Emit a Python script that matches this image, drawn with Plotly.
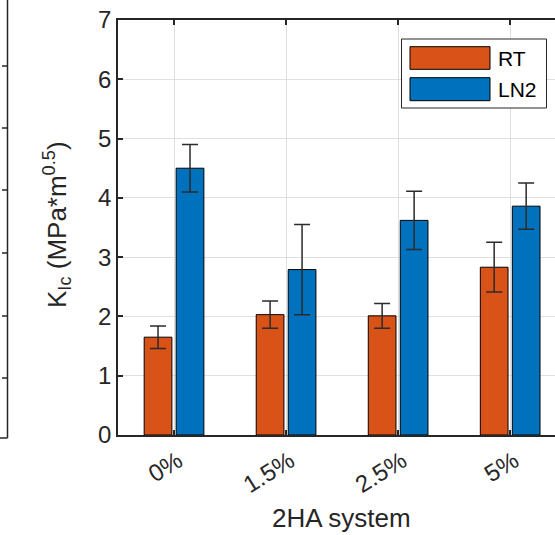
import plotly.graph_objects as go

categories = ["0%", "1.5%", "2.5%", "5%"]
rt_values = [1.65, 2.03, 2.01, 2.83]
rt_errors = [0.19, 0.23, 0.21, 0.42]
ln2_values = [4.50, 2.79, 3.62, 3.86]
ln2_errors = [0.40, 0.76, 0.49, 0.39]
series_names = ["RT", "LN2"]
y_ticks = [0, 1, 2, 3, 4, 5, 6, 7]

RT_COLOR = "#D95319"
LN2_COLOR = "#0072BD"
AX = "#262626"
GRID = "#dfdfdf"
FONT = "Liberation Sans, Arial, Helvetica, sans-serif"

W, H = 555, 535
L, R, T, B = 118, 0, 20, 100
PW, PH = W - L - R, H - T - B


def px(x):
    return (x - L) / PW


def py(y):
    return (H - B - y) / PH


fig = go.Figure()
for name, vals, errs, col in [
    (series_names[0], rt_values, rt_errors, RT_COLOR),
    (series_names[1], ln2_values, ln2_errors, LN2_COLOR),
]:
    fig.add_trace(go.Bar(
        x=categories, y=vals, name=name,
        marker=dict(color=col, line=dict(color="#000000", width=1)),
        error_y=dict(type="data", array=errs, visible=True,
                     color="#2b2b2b", thickness=1.5, width=8),
        showlegend=False,
    ))

shapes = []
# custom MATLAB-style legend
shapes.append(dict(type="rect", xref="paper", yref="paper",
                   x0=px(401.5), x1=px(546.5), y0=py(108), y1=py(39),
                   line=dict(color=AX, width=1), fillcolor="white", layer="above"))
for (y0, y1), col in [((46.7, 69.3), RT_COLOR), ((77.7, 100.7), LN2_COLOR)]:
    shapes.append(dict(type="rect", xref="paper", yref="paper",
                       x0=px(410), x1=px(490), y0=py(y1), y1=py(y0),
                       line=dict(color="#000000", width=1), fillcolor=col, layer="above"))

# fragment of neighbouring axes at the left edge
shapes.append(dict(type="line", xref="paper", yref="paper",
                   x0=px(7.5), x1=px(7.5), y0=py(438), y1=py(-2),
                   line=dict(color=AX, width=1.5)))
shapes.append(dict(type="line", xref="paper", yref="paper",
                   x0=px(-2), x1=px(7.5), y0=py(438), y1=py(438),
                   line=dict(color=AX, width=1.5)))
for ty in [66, 128, 190, 253, 316, 378]:
    shapes.append(dict(type="line", xref="paper", yref="paper",
                       x0=px(2), x1=px(7.5), y0=py(ty), y1=py(ty),
                       line=dict(color=AX, width=1.5)))

annotations = [
    dict(text="RT", xref="paper", yref="paper", x=px(496), y=py(58),
         xanchor="left", yanchor="middle", showarrow=False,
         font=dict(size=21, color="#000000", family=FONT)),
    dict(text="LN2", xref="paper", yref="paper", x=px(496), y=py(89),
         xanchor="left", yanchor="middle", showarrow=False,
         font=dict(size=21, color="#000000", family=FONT)),
    dict(text="2HA system", xref="paper", yref="paper", x=px(341), y=py(518),
         xanchor="center", yanchor="middle", showarrow=False,
         font=dict(size=26, color=AX, family=FONT)),
    dict(text="K<sub>Ic</sub> (MPa*m<sup>0.5</sup>)", xref="paper", yref="paper",
         x=px(57), y=py(225), textangle=-90,
         xanchor="center", yanchor="middle", showarrow=False,
         font=dict(size=26, color=AX, family=FONT)),
]

fig.update_layout(
    width=W, height=H,
    margin=dict(l=L, r=R, t=T, b=B, pad=0),
    paper_bgcolor="white", plot_bgcolor="white",
    barmode="group", bargap=0.429, bargroupgap=0.134,
    font=dict(family=FONT, color=AX, size=24),
    shapes=shapes, annotations=annotations,
    showlegend=False,
)
fig.update_xaxes(
    type="category", range=[-0.5, 3.4],
    showgrid=True, gridcolor=GRID, gridwidth=1,
    showline=True, linecolor=AX, linewidth=1.5, mirror="ticks",
    ticks="inside", ticklen=5, tickwidth=1.5, tickcolor=AX,
    tickangle=-32, tickfont=dict(size=24, color=AX),
    ticklabelstandoff=1, ticklabelshift=4,
)
fig.update_yaxes(
    range=[0, 7], tickvals=y_ticks,
    showgrid=True, gridcolor=GRID, gridwidth=1, zeroline=False,
    showline=True, linecolor=AX, linewidth=1.5,
    ticks="inside", ticklen=5, tickwidth=1.5, tickcolor=AX,
    tickfont=dict(size=24, color=AX),
)

fig.write_html(
    "out.html",
    config={"displayModeBar": False},
    post_script="document.body.style.margin='0';document.body.style.overflow='hidden';",
)
